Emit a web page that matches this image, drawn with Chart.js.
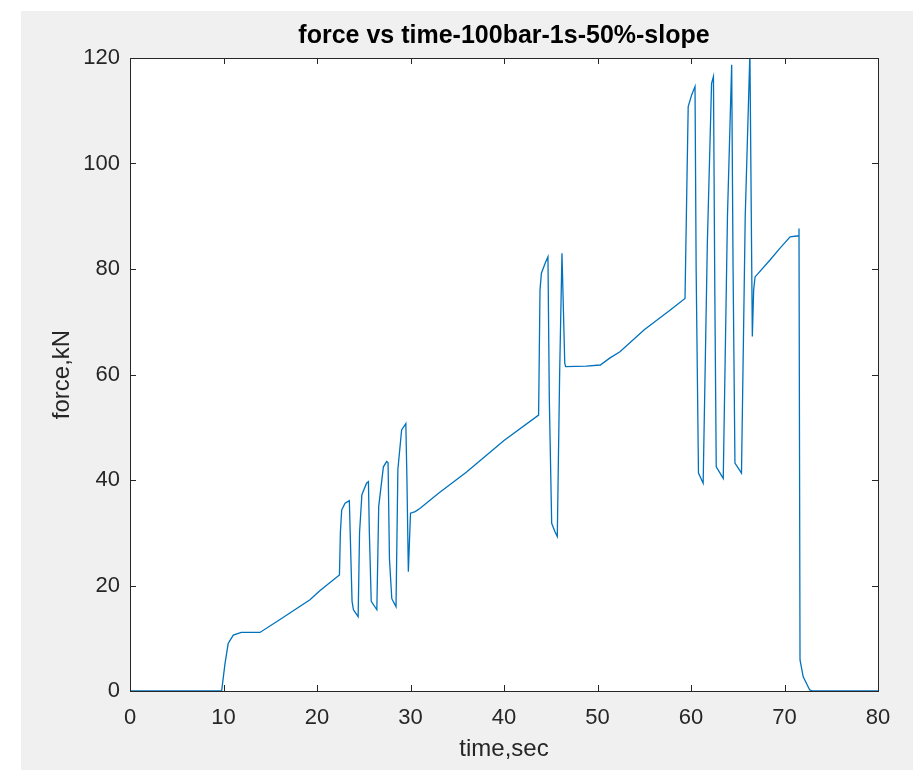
<!DOCTYPE html>
<html>
<head>
<meta charset="utf-8">
<script src="https://cdn.jsdelivr.net/npm/chart.js@4.4.1/dist/chart.umd.min.js"></script>
<style>
  html, body { margin: 0; padding: 0; background: #ffffff; }
  #wrap { width: 913px; height: 770px; }
</style>
</head>
<body>
<div id="wrap"><canvas id="forceChart" width="913" height="770"></canvas></div>
<script>
// --- DATA ---
const timeSec = [
    0, 9.8, 10.16, 10.5, 11.05, 11.9, 13.9, 16.0, 19.25, 20.3, 22.4,
    22.5, 22.64, 23.0, 23.46, 23.55, 23.75, 23.9, 24.4,
    24.55, 24.8, 25.3, 25.5, 25.6, 25.8, 26.4,
    26.6, 27.1, 27.45, 27.6, 27.75, 28.0, 28.45,
    28.65, 29.05, 29.5, 29.62, 29.77, 30.0, 30.5, 31.0, 33.0, 36.0, 40.0, 43.7,
    43.85, 44.0, 44.4, 44.7, 44.85, 45.1, 45.45, 45.7,
    45.95, 46.2, 46.5, 46.6, 48.8, 50.3, 51.3, 52.4, 55.0, 57.75, 59.36,
    59.55, 59.7, 60.07, 60.43, 60.55, 60.8, 61.3,
    61.75, 62.2, 62.4, 62.55, 62.7, 63.45,
    63.9, 64.35, 64.5, 64.7, 65.4,
    65.8, 66.3, 66.56, 66.7, 66.85, 68.45, 69.5, 70.6, 71.5, 71.55,
    71.66, 72.0, 72.7, 73.0, 80
];
const forceKN = [
    0, 0, 5.2, 9.0, 10.6, 11.1, 11.1, 13.5, 17.3, 19.0, 22.0,
    30, 34.3, 35.6, 36.1, 30, 17, 15.4, 14.1,
    30, 37.2, 39.4, 39.7, 30, 17, 15.4,
    35, 42.5, 43.5, 43.3, 25, 17.5, 16.0,
    42, 49.5, 50.7, 40, 22.6, 33.7, 34.0, 34.6, 37.5, 41.5, 47.5, 52.3,
    76, 79.2, 81.1, 82.3, 55, 31.8, 30.2, 29.3,
    60, 83, 62.1, 61.5, 61.6, 61.8, 63.1, 64.3, 68.5, 72.2, 74.4,
    95, 110.8, 113, 114.6, 80, 41.3, 39.4,
    85, 115.2, 116.5, 75, 42.5, 40.3,
    90, 118.7, 80, 43.2, 41.3,
    90, 121, 67.2, 76, 78.5, 81.7, 83.9, 86.1, 86.3, 87.7,
    5.9, 2.7, 0.2, 0, 0
];
const xTicks = [0, 10, 20, 30, 40, 50, 60, 70, 80];
const yTicks = [0, 20, 40, 60, 80, 100, 120];

const points = timeSec.map((t, i) => ({ x: t, y: forceKN[i] }));

// --- MATLAB look: grey figure, white box, ticks pointing in ---
const figureStyle = {
    id: 'figureStyle',
    afterLayout(chart) {
        // centre the title over the axes box, like MATLAB does
        const a = chart.chartArea;
        if (chart.titleBlock) {
            chart.titleBlock.left = a.left;
            chart.titleBlock.right = a.right;
            chart.titleBlock.width = a.right - a.left;
        }
    },
    beforeDraw(chart) {
        const { ctx, chartArea: a } = chart;
        ctx.save();
        ctx.fillStyle = '#ffffff';
        ctx.fillRect(0, 0, chart.width, chart.height);
        ctx.fillStyle = '#f0f0f0';
        ctx.fillRect(21, 11, chart.width - 21, chart.height - 11);
        ctx.fillStyle = '#ffffff';
        ctx.fillRect(a.left, a.top, a.right - a.left, a.bottom - a.top);
        ctx.restore();
    },
    afterDatasetsDraw(chart) {
        const { ctx, chartArea: a, scales } = chart;
        const len = 6;
        ctx.save();
        ctx.strokeStyle = '#262626';
        ctx.lineWidth = 1;
        ctx.beginPath();
        scales.x.ticks.forEach(tk => {
            const px = Math.round(scales.x.getPixelForValue(tk.value)) + 0.5;
            ctx.moveTo(px, a.bottom); ctx.lineTo(px, a.bottom - len);
            ctx.moveTo(px, a.top); ctx.lineTo(px, a.top + len);
        });
        scales.y.ticks.forEach(tk => {
            const py = Math.round(scales.y.getPixelForValue(tk.value)) + 0.5;
            ctx.moveTo(a.left, py); ctx.lineTo(a.left + len, py);
            ctx.moveTo(a.right, py); ctx.lineTo(a.right - len, py);
        });
        ctx.stroke();
        ctx.strokeRect(a.left + 0.5, a.top + 0.5, a.right - a.left, a.bottom - a.top);
        ctx.restore();
    }
};

new Chart(document.getElementById('forceChart'), {
    type: 'line',
    data: {
        datasets: [{
            data: points,
            borderColor: '#0072BD',
            borderWidth: 1.3,
            pointRadius: 0,
            tension: 0,
            fill: false
        }]
    },
    options: {
        responsive: false,
        animation: false,
        events: [],
        layout: { padding: { left: 0, top: 0, right: 35, bottom: 0 } },
        plugins: {
            legend: { display: false },
            tooltip: { enabled: false },
            title: {
                display: true,
                text: 'force vs time-100bar-1s-50%-slope',
                color: '#000000',
                font: { family: 'Liberation Sans, Arial, sans-serif', size: 25, weight: 'bold' },
                padding: { top: 21, bottom: 7 }
            }
        },
        scales: {
            x: {
                type: 'linear',
                min: 0,
                max: 80,
                afterBuildTicks: (scale) => { scale.ticks = xTicks.map(v => ({ value: v })); },
                afterFit: (scale) => { scale.height = 79; },
                grid: { display: false, drawTicks: false },
                border: { display: false },
                ticks: {
                    color: '#262626',
                    padding: 14,
                    font: { family: 'Liberation Sans, Arial, sans-serif', size: 22 }
                },
                title: {
                    display: true,
                    text: 'time,sec',
                    color: '#262626',
                    font: { family: 'Liberation Sans, Arial, sans-serif', size: 24 },
                    padding: { top: 0, bottom: 6 }
                }
            },
            y: {
                type: 'linear',
                min: 0,
                max: 120,
                afterBuildTicks: (scale) => { scale.ticks = yTicks.map(v => ({ value: v })); },
                afterFit: (scale) => { scale.width = 130; },
                grid: { display: false, drawTicks: false },
                border: { display: false },
                ticks: {
                    color: '#262626',
                    padding: 10,
                    font: { family: 'Liberation Sans, Arial, sans-serif', size: 22 }
                },
                title: {
                    display: true,
                    text: 'force,kN',
                    color: '#262626',
                    font: { family: 'Liberation Sans, Arial, sans-serif', size: 24 },
                    padding: { top: 48, bottom: 0 }
                }
            }
        }
    },
    plugins: [figureStyle]
});
</script>
</body>
</html>
